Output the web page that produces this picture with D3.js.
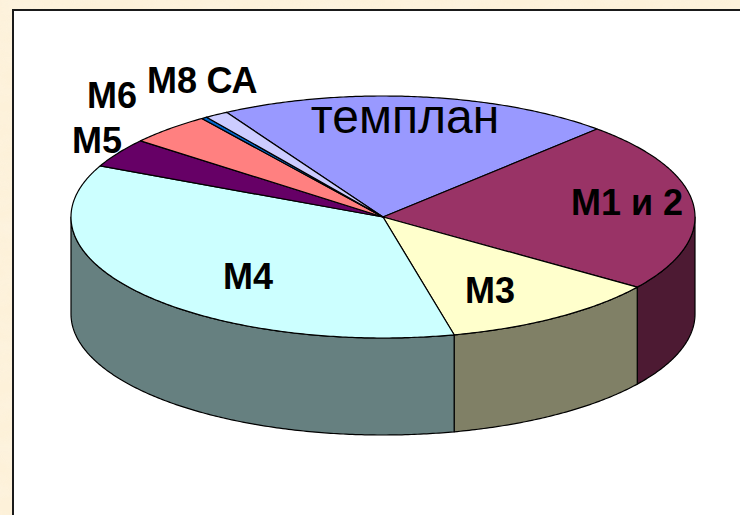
<!DOCTYPE html>
<html><head><meta charset="utf-8">
<script src="https://cdn.jsdelivr.net/npm/d3@7"></script>
<style>html,body{margin:0;padding:0;background:#fdf1d9;overflow:hidden;width:740px;height:515px}svg{position:absolute;left:0;top:0}</style>
</head><body>
<script>
const categories = ["темплан", "М1 и 2", "М3", "М4", "М5", "М6", "М8", "СА"];
const values = [20.4, 22.8, 11.5, 35.6, 3.9, 4.3, 0.3, 1.2];
const topColors = ["#9999FF", "#993366", "#FFFFCC", "#CCFFFF", "#660066", "#FF8080", "#0066CC", "#CCCCFF"];
const labelPos = [[405,133],[627,215],[490,303],[248,289],[97,153],[112,108],[172,93],[232,93]];

const W = 740, H = 515;
const svg = d3.select("body").append("svg").attr("width", W).attr("height", H);
const defs = svg.append("defs");
const f = defs.append("filter").attr("id","paper").attr("x",0).attr("y",0).attr("width","100%").attr("height","100%");
f.append("feTurbulence").attr("type","fractalNoise").attr("baseFrequency","0.02 0.05").attr("numOctaves",3).attr("seed",4).attr("result","n");
f.append("feColorMatrix").attr("in","n").attr("type","matrix")
  .attr("values","0 0 0 0 0.98  0 0 0 0 0.91  0 0 0 0 0.78  0 0 0 -1.2 0.8").attr("result","c");
svg.append("rect").attr("width",W).attr("height",H).attr("fill","#fdf1d9");
svg.append("rect").attr("width",W).attr("height",H).attr("fill","#fdf1d9").attr("filter","url(#paper)").attr("opacity",0.8);

// plot area (extends past right and bottom edges)
svg.append("rect").attr("x",13).attr("y",10).attr("width",W + 40).attr("height",H + 40).attr("fill","#fff");
svg.append("path").attr("d","M13," + (H + 5) + "V10H" + (W + 5)).attr("fill","none")
  .attr("stroke","#1a1a1a").attr("stroke-width",2);

const cx = 383, cy = 217, rx = 312, ry = 121, depth = 97;
const start = -30.1 * Math.PI / 180;
const pie = d3.pie().sort(null).startAngle(start).endAngle(start + 2*Math.PI);
const arcs = pie(values);

const px = a => cx + rx*Math.sin(a);
const py = a => cy - ry*Math.cos(a);
const darker = c => { const k = d3.rgb(c); return d3.rgb(k.r*0.5, k.g*0.5, k.b*0.5).toString(); };

function samples(a0, a1){
  const n = Math.max(2, Math.ceil(Math.abs(a1-a0)/0.01));
  return d3.range(n+1).map(i => a0 + (a1-a0)*i/n);
}
const line = d3.line();

const g = svg.append("g");
// sides (front half)
arcs.forEach((d,i) => {
  const s = Math.max(d.startAngle, Math.PI/2), e = Math.min(d.endAngle, 3*Math.PI/2);
  if (e <= s) return;
  const ang = samples(s, e);
  const pts = ang.map(a => [px(a), py(a)]).concat(ang.slice().reverse().map(a => [px(a), py(a)+depth]));
  g.append("path").attr("d", line(pts)+"Z").attr("fill", darker(topColors[i]))
    .attr("stroke","#000").attr("stroke-width",1.2).attr("stroke-linejoin","round");
});
// tops
arcs.forEach((d,i) => {
  const ang = samples(d.startAngle, d.endAngle);
  const pts = [[cx,cy]].concat(ang.map(a => [px(a), py(a)]));
  g.append("path").attr("d", line(pts)+"Z").attr("fill", topColors[i])
    .attr("stroke","#000").attr("stroke-width",1.2).attr("stroke-linejoin","round");
});

// labels
categories.forEach((c,i) => {
  const t = svg.append("text").attr("x",labelPos[i][0]).attr("y",labelPos[i][1])
    .attr("text-anchor","middle").attr("font-family","Arial, 'Liberation Sans', sans-serif")
    .attr("fill","#000").text(c);
  if (i === 0) t.attr("font-size",48).attr("font-weight","normal");
  else t.attr("font-size",36).attr("font-weight","bold");
});
</script>
</body></html>
